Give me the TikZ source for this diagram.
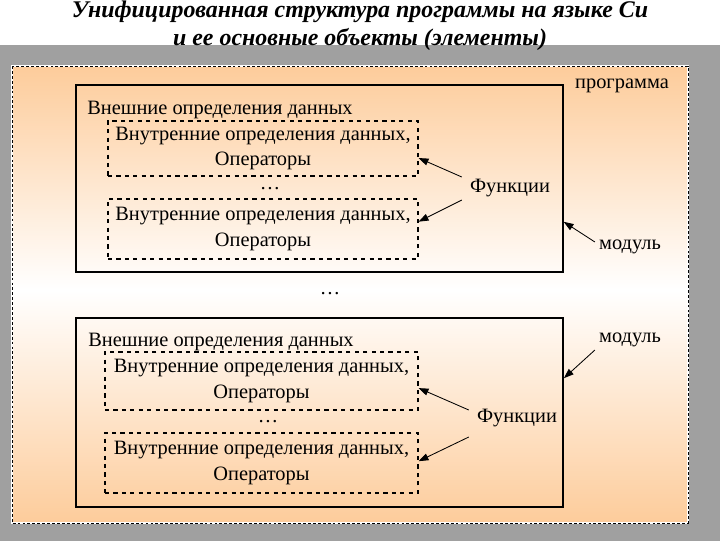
\documentclass[tikz,border=0pt]{standalone}
\usepackage{fontspec}
\setmainfont{Liberation Serif}
\usetikzlibrary{arrows.meta,calc}
\definecolor{peach}{RGB}{253,204,155}
\definecolor{slidegray}{RGB}{160,160,160}
\definecolor{slidelight}{RGB}{222,222,222}

\begin{document}
\begin{tikzpicture}[x=0.025cm,y=-0.025cm,
    txt/.style={inner sep=0pt,font=\fontsize{14.5}{17.5}\selectfont},
    modbox/.style={draw,line width=0.9pt,minimum width=12.175cm,inner sep=0pt},
    inbox/.style={draw,dashed,line width=0.8pt,minimum width=7.75cm,align=center,inner sep=0pt,
      font=\fontsize{14.5}{18}\selectfont},
    pointer/.style={-{Triangle[length=7pt,width=5pt]},line width=0.6pt}]
  \useasboundingbox (0,0) rectangle (720,540);
  % slide background
  \fill[white] (0,0) rectangle (720,45);
  \shade[left color=slidegray,middle color=slidelight,right color=slidegray] (0,45) rectangle (720,540);
  \node[font=\fontsize{17}{20}\selectfont\bfseries\itshape,align=center] (title) at (360,26)
    {Унифицированная структура программы на языке Си\\и ее основные объекты (элементы)};
  % program area
  \shade[top color=peach,bottom color=white] (12,66) rectangle (688,290);
  \shade[top color=white,bottom color=peach] (12,290) rectangle (688,523);
  \draw[white,line width=0.8pt] (12,66) rectangle (688,523);
  \draw[dashed,line width=0.5pt,dash pattern=on 2pt off 1.5pt] (12,66) rectangle (688,523);
  \node[txt] (prog) at (622,86) {программа};

  % first module
  \node[modbox,minimum height=4.675cm] (m1) at (319.5,178.5) {};
  \node[txt,anchor=west] (ext1) at (87,110) {Внешние определения данных};
  \node[inbox,minimum height=1.375cm] (f11) at (263,148.5) {Внутренние определения данных,\\Операторы};
  \node[txt] (dots11) at (270,189) {\dots};
  \node[inbox,minimum height=1.5cm] (f12) at (263,229) {Внутренние определения данных,\\Операторы};
  \node[txt] (fn1) at (510,188) {Функции};
  \node[txt] (mod1) at (630,247) {модуль};
  \draw[pointer] ($(fn1.west)+(-8,-11)$) -- ($(f11.north east)!.67!(f11.south east)$);
  \draw[pointer] ($(fn1.west)+(-8,12)$) -- ($(f12.north east)!.38!(f12.south east)$);
  \draw[pointer] ($(mod1.west)+(-4,-5)$) -- ($(m1.north east)!.73!(m1.south east)$);

  \node[txt] (dots0) at (330,294) {\dots};

  % second module
  \node[modbox,line width=1.2pt,minimum height=4.725cm] (m2) at (319.5,412.5) {};
  \node[txt,anchor=west] (ext2) at (88,342) {Внешние определения данных};
  \node[inbox,minimum width=7.825cm,minimum height=1.45cm] (f21) at (261.5,381) {Внутренние определения данных,\\Операторы};
  \node[txt] (dots21) at (268,422) {\dots};
  \node[inbox,minimum width=7.825cm,minimum height=1.5cm] (f22) at (261.5,463) {Внутренние определения данных,\\Операторы};
  \node[txt] (fn2) at (517,418) {Функции};
  \node[txt] (mod2) at (630,340) {модуль};
  \draw[pointer] ($(fn2.west)+(-8,-8)$) -- ($(f21.north east)!.62!(f21.south east)$);
  \draw[pointer] ($(fn2.west)+(-8,19)$) -- ($(f22.north east)!.47!(f22.south east)$);
  \draw[pointer] ($(mod2.west)+(-4,10)$) -- ($(m2.north east)!.32!(m2.south east)$);
\end{tikzpicture}
\end{document}
